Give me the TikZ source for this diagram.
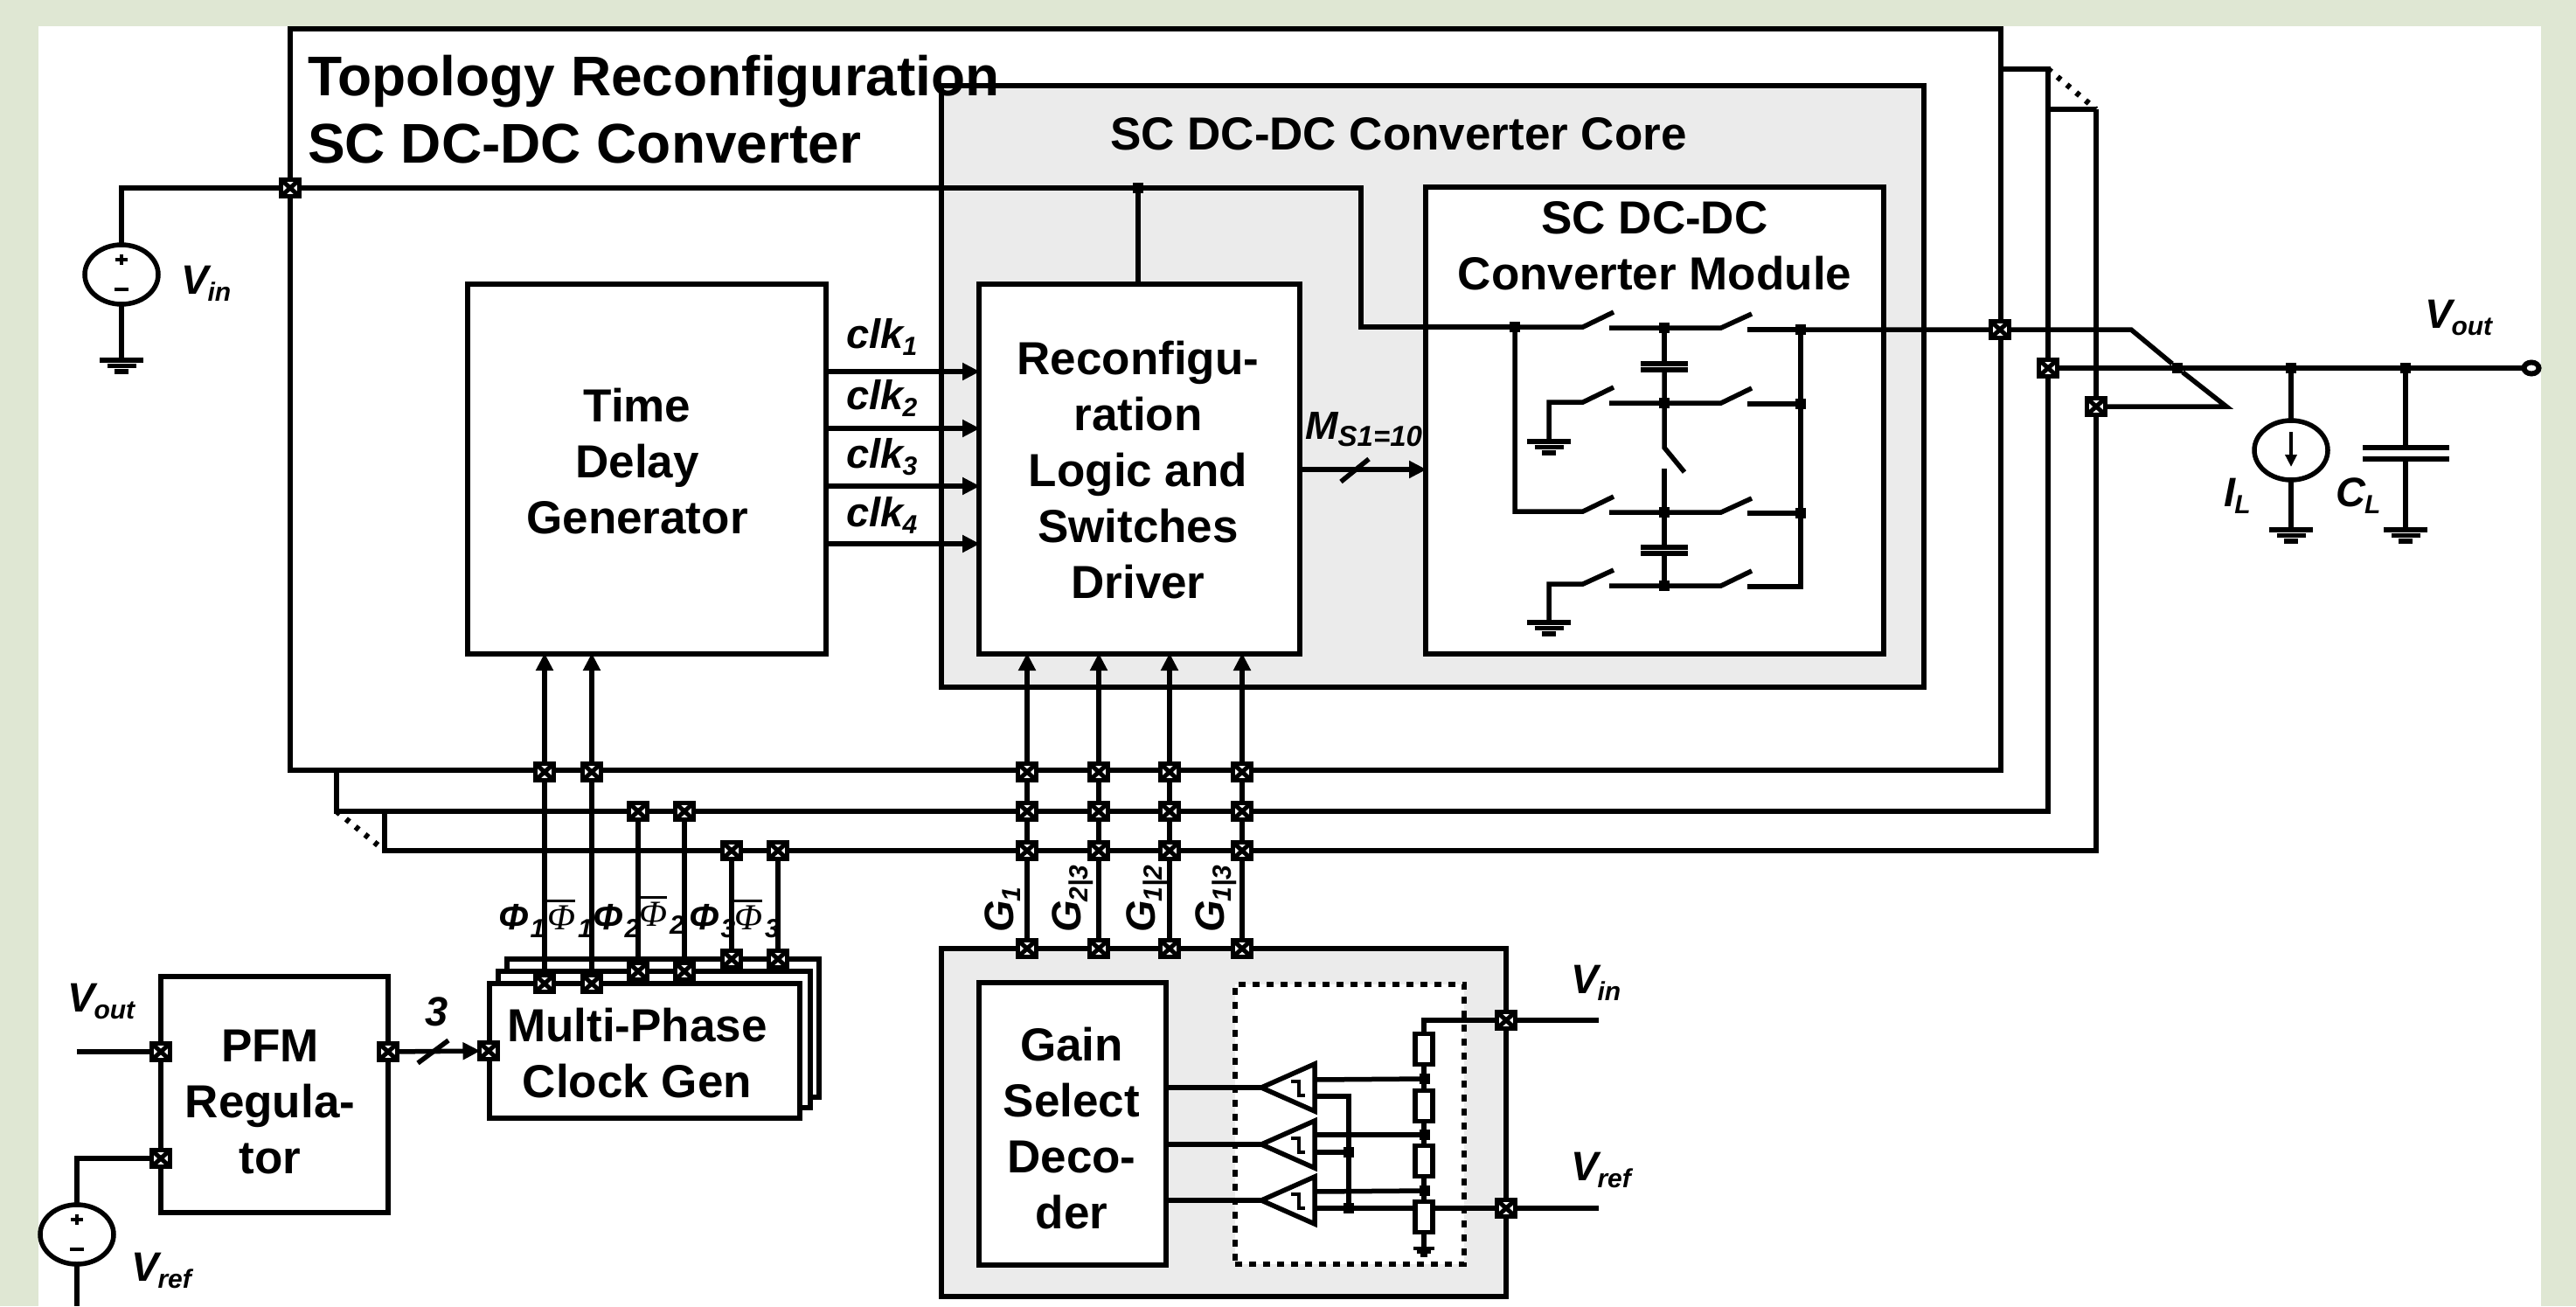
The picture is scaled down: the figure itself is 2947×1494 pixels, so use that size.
\documentclass[tikz,border=0pt]{standalone}
\usepackage{fontspec}
\setmainfont{Liberation Sans}
\newfontfamily\serphi{Liberation Serif}
\usetikzlibrary{arrows.meta,shapes.geometric,calc}
\pgfdeclarelayer{bg}
\pgfdeclarelayer{wirelayer}
\pgfsetlayers{bg,wirelayer,main}
\definecolor{pagegreen}{HTML}{DFE7D3}
\definecolor{coregray}{HTML}{EBEBEB}
% label with subscript: main, subscript
\newcommand{\slab}[2]{{\fontsize{47}{47}\selectfont\bfseries\itshape #1\kern-1pt\raisebox{-8pt}{\fontsize{30}{30}\selectfont #2}}}
\newcommand{\phiplain}[1]{{\fontsize{42}{42}\selectfont\bfseries\itshape Φ\kern2pt\raisebox{-9pt}{\fontsize{30}{30}\selectfont #1}}}
\newcommand{\phibar}[1]{{\fontsize{42}{42}\selectfont\vbox{\hrule height 3pt\kern 4pt\hbox{\serphi\itshape Φ}}\kern3pt\raisebox{-9pt}{\bfseries\itshape\fontsize{30}{30}\selectfont #1}}}
\newcommand{\boxnode}[6][blk]{\node[#1,minimum width={(#5-#3)*1pt},minimum height={(#6-#4)*1pt}] (#2) at ({(#3+#5)/2},{(#4+#6)/2}) {};}
\newcommand{\gndsym}[4]{% x, y, half width, step
  \draw[gbar] ({#1-#3},#2) -- ({#1+#3},#2)
   ({#1-#3*0.66},{#2+#4}) -- ({#1+#3*0.66},{#2+#4})
   ({#1-#3*0.33},{#2+2*#4}) -- ({#1+#3*0.33},{#2+2*#4});}
\newcommand{\vsource}[3]{%
  \node[srcell] (#1) at (#2,#3) {};
  \draw[line width=4pt] ({#2-7},{#3-17}) -- ({#2+7},{#3-17}) ({#2},{#3-23}) -- ({#2},{#3-11})
   ({#2-8},{#3+17}) -- ({#2+8},{#3+17});}
\newcommand{\compar}[2]{%
  \coordinate (#1) at (1443,#2);
  \draw[wire,line join=miter] (#1) -- (1504,{#2-27}) -- (1504,{#2+27}) -- cycle;
  \draw[line width=4pt] (1477,{#2-7}) -- (1486,{#2-7}) -- (1486,{#2+9}) -- (1493,{#2+9});}
\tikzset{
  blk/.style={draw,line width=6.5pt,fill=white,inner sep=0pt,outer sep=0pt},
  coreblk/.style={blk,fill=coregray},
  wire/.style={line width=5.5pt,line join=miter},
  arrowwire/.style={wire,-{Triangle[length=20pt,width=19pt]},shorten >=-1pt},
  gbar/.style={line width=5.5pt},
  dotline/.style={line width=6.5pt,dash pattern=on 5pt off 9pt},
  port/.style={draw,line width=4.5pt,fill=white,minimum width=21pt,minimum height=19pt,inner sep=0pt,outer sep=0pt,
    path picture={\draw[line width=5pt]
      (path picture bounding box.north west) -- (path picture bounding box.south east)
      (path picture bounding box.north east) -- (path picture bounding box.south west);}},
  jdot/.style={fill=black,minimum size=12pt,inner sep=0pt,outer sep=0pt},
  res/.style={draw,line width=5.5pt,fill=white,minimum width=20pt,minimum height=35pt,inner sep=0pt},
  srcell/.style={ellipse,draw,line width=5.5pt,fill=white,minimum width=84pt,minimum height=68pt,inner sep=0pt,outer sep=0pt},
  ttl/.style={inner sep=0pt,font=\fontsize{64}{79}\selectfont\bfseries,align=left},
  bigt/.style={inner sep=0pt,font=\fontsize{53}{64}\selectfont\bfseries,align=center},
  lab/.style={inner sep=0pt,anchor=base west},
}
\begin{document}
\begin{tikzpicture}[x=1pt,y=-1pt]
\useasboundingbox (0,0) rectangle (2947,1494);
\begin{pgfonlayer}{bg}
  \fill[pagegreen] (0,0) rectangle (2947,1494);
  \fill[white] (44,30) rectangle (2907,1494);
  % stacked outlines
  \draw[wire,line width=6pt] (2398,125) -- (2398,973) -- (440,973) -- (440,928);
  \draw[wire,line width=6pt] (2343,125) -- (2398,125);
  \draw[wire,line width=6pt] (2288,79) -- (2343,79) -- (2343,928) -- (385,928) -- (385,881);
  \draw[dotline] (2343,79) -- (2398,125);
  \draw[dotline] (385,928) -- (440,973);
  \boxnode{topo}{332}{33}{2289}{881}
  \boxnode[coreblk]{core}{1077}{98}{2201}{786}
  \boxnode{module}{1631}{214}{2155}{748}
  \boxnode{tdg}{535}{325}{945}{748}
  \boxnode{logic}{1120}{325}{1487}{748}
  \boxnode{gen3}{580}{1097}{937}{1255}
  \boxnode{gen2}{570}{1111}{927}{1267}
  \boxnode{gen1}{560}{1125}{915}{1279}
  \boxnode{pfm}{184}{1117}{444}{1387}
  \boxnode[coreblk]{gain}{1077}{1085}{1723}{1483}
  \boxnode{decoder}{1120}{1124}{1334}{1447}
  \node[draw,line width=5.5pt,fill=white,dash pattern=on 8pt off 8pt,minimum width=262pt,minimum height=320pt,inner sep=0pt,outer sep=0pt] (ladderbox) at (1544,1286) {};
\end{pgfonlayer}

% ---- titles and block texts
\node[ttl,anchor=base west] (title1) at (352,109) {Topology Reconfiguration};
\node[ttl,anchor=base west] (title2) at (352,186) {SC DC-DC Converter};
\node[bigt,anchor=base] (coretxt) at (1600,171) {SC DC-DC Converter Core};
\node[bigt,anchor=base] (modtxt) at (1893,331) {SC DC-DC\\Converter Module};
\node[bigt,anchor=base] (tdgtxt) at (729,610) {Time\\Delay\\Generator};
\node[bigt,anchor=base] (logtxt) at (1302,684) {Reconfigu-\\ration\\Logic and\\Switches\\Driver};
\node[bigt,anchor=base] (gentxt) at (729,1255) {Multi-Phase\\Clock Gen};
\node[bigt,anchor=base] (pfmtxt) at (309,1342) {PFM\\Regula-\\tor};
\node[bigt,anchor=base] (dectxt) at (1226,1405) {Gain\\Select\\Deco-\\der};

% ---- small labels
\node[lab] (lVin) at (207,336) {\slab{V}{in}};
\node[lab] (lVout) at (2774,375) {\slab{V}{out}};
\node[lab] (lVoutL) at (77,1157) {\slab{V}{out}};
\node[lab] (lVref) at (150,1465) {\slab{V}{ref}};
\node[lab] (lVinR) at (1797,1136) {\slab{V}{in}};
\node[lab] (lVrefR) at (1797,1350) {\slab{V}{ref}};
\node[lab] (lIL) at (2544,579) {\slab{I}{L}};
\node[lab] (lCL) at (2672,579) {\slab{C}{L}};
\node[lab] (lThree) at (486,1173) {\fontsize{47}{47}\selectfont\bfseries\itshape 3};
\node[lab] (lclkA) at (968,398) {\slab{clk}{1}};
\node[lab] (lclkB) at (968,468) {\slab{clk}{2}};
\node[lab] (lclkC) at (968,535) {\slab{clk}{3}};
\node[lab] (lclkD) at (968,602) {\slab{clk}{4}};
\node[lab] (lMS) at (1493,502) {{\fontsize{45}{45}\selectfont\bfseries\itshape M\raisebox{-8pt}{\fontsize{33}{33}\selectfont S1=10}}};
\node[lab] (lP1) at (570,1063) {\phiplain{1}};
\node[lab] (lP1b) at (626,1063) {\phibar{1}};
\node[lab] (lP2) at (678,1063) {\phiplain{2}};
\node[lab] (lP2b) at (731,1059) {\phibar{2}};
\node[lab] (lP3) at (788,1063) {\phiplain{3}};
\node[lab] (lP3b) at (840,1063) {\phibar{3}};
\node[lab,rotate=90] (lG1) at (1159,1067) {\slab{G}{1}};
\node[lab,rotate=90] (lG23) at (1236,1067) {\slab{G}{2|3}};
\node[lab,rotate=90] (lG12) at (1321,1067) {\slab{G}{1|2}};
\node[lab,rotate=90] (lG13) at (1400,1067) {\slab{G}{1|3}};

% ---- ports
\node[port] (pVin) at (332,215) {};
\node[port] (pOutA) at (2288,377) {};
\node[port] (pOutB) at (2343,421) {};
\node[port] (pOutC) at (2398,465) {};
\node[port] (pPfmA) at (184,1203) {};
\node[port] (pPfmB) at (184,1325) {};
\node[port] (pPfmO) at (444,1203) {};
\node[port] (pGenI) at (559,1202) {};
\node[port] (pGainV) at (1723,1167) {};
\node[port] (pGainR) at (1723,1382) {};
\foreach \n/\x in {a/1175,b/1257,c/1338,d/1421}{
  \node[port] (pg\n0) at (\x,1085) {};
  \node[port] (pg\n1) at (\x,973) {};
  \node[port] (pg\n2) at (\x,928) {};
  \node[port] (pg\n3) at (\x,883) {};
}
\foreach \n/\x in {a/623,b/677}{
  \node[port] (ph\n T) at (\x,883) {};
  \node[port] (ph\n B) at (\x,1125) {};
}
\foreach \n/\x in {c/730,d/783}{
  \node[port] (ph\n T) at (\x,928) {};
  \node[port] (ph\n B) at (\x,1111) {};
}
\foreach \n/\x in {e/837,f/890}{
  \node[port] (ph\n T) at (\x,973) {};
  \node[port] (ph\n B) at (\x,1097) {};
}

% ---- junction dots
\node[jdot] (jLogic) at (1302,215) {};
\node[jdot] (jSwL) at (1733,374) {};
\node[jdot] (jC1) at (1904,375) {};
\node[jdot] (jC2) at (1904,461) {};
\node[jdot] (jC3) at (1904,586) {};
\node[jdot] (jC4) at (1904,670) {};
\node[jdot] (jR1) at (2060,377) {};
\node[jdot] (jR2) at (2060,462) {};
\node[jdot] (jR3) at (2060,587) {};
\node[jdot] (jCross) at (2491,421) {};
\node[jdot] (jIL) at (2621,421) {};
\node[jdot] (jCL) at (2752,421) {};
\node[jdot] (jT1) at (1630,1234) {};
\node[jdot] (jT2) at (1630,1298) {};
\node[jdot] (jT3) at (1630,1362) {};
\node[jdot] (jH2) at (1543,1318) {};
\node[jdot] (jH3) at (1543,1382) {};

% ---- sources, resistors, comparators
\vsource{srcVin}{139}{314}
\vsource{srcVref}{88}{1412}
\node[srcell] (srcIL) at (2621,515) {};
\draw[line width=4.5pt,-{Triangle[length=14pt,width=13pt]}] (2621,494) -- (2621,534);
\node[res] (r1) at (1629,1200) {};
\node[res] (r2) at (1629,1265) {};
\node[res] (r3) at (1629,1328) {};
\node[res] (r4) at (1629,1392) {};
\compar{cmpA}{1244}
\compar{cmpB}{1309}
\compar{cmpC}{1373}

% ---- grounds
\gndsym{139}{412}{25}{6.5}
\gndsym{1772}{505}{25}{6.5}
\gndsym{1772}{712}{25}{6.5}
\gndsym{2621}{606}{25}{6.5}
\gndsym{2752}{606}{25}{6.5}
\draw[line width=4pt] (1617,1428) -- (1641,1428) (1621,1432) -- (1637,1432) (1625,1436) -- (1633,1436);

% ---- capacitors plates
\draw[gbar] (1877,416) -- (1931,416) (1877,423) -- (1931,423);
\draw[gbar] (1877,626) -- (1931,626) (1877,633) -- (1931,633);
\draw[gbar] (2703,512) -- (2802,512) (2703,525) -- (2802,525);

% ---- terminal
\node[draw,line width=6pt,ellipse,fill=white,minimum width=17pt,minimum height=13pt,inner sep=0pt] (termOut) at (2896,421) {};

% ---- free ends
\coordinate (cVoutL) at (88,1203);
\coordinate (cVinR) at (1829,1167);
\coordinate (cVrefR) at (1829,1382);
\coordinate (cBottom) at (88,1494);
\coordinate (cFold) at (1557,215);
\coordinate (cFold2) at (1557,374);
\coordinate (cXa) at (2438,377);
\coordinate (cXb) at (2547,465);
\coordinate (cLad) at (1629,1167);
\coordinate (cLadG) at (1629,1428);

\begin{pgfonlayer}{wirelayer}
  % supply
  \draw[wire] (srcVin.north) |- (pVin) -- (jLogic) -- (cFold) -- (cFold2) -- (jSwL);
  \draw[wire] (srcVin.south) -- (139,412);
  \draw[wire] (jLogic) -- (jLogic |- logic.north);
  % output
  \draw[wire] (jR1) -- (pOutA) -- (cXa) -- (jCross) -- (cXb) -- (pOutC);
  \draw[wire] (pOutB) -- (jCross) -- (jIL) -- (jCL) -- (termOut);
  \draw[wire] (jIL) -- (srcIL.north);
  \draw[wire] (srcIL.south) -- (2621,606);
  \draw[wire] (jCL) -- (2752,512);
  \draw[wire] (2752,525) -- (2752,606);
  % clk arrows
  \foreach \y in {425,490,556,622}{
    \draw[arrowwire] (tdg.east |- 0,\y) -- (logic.west |- 0,\y);
  }
  % MS1=10
  \draw[arrowwire] (logic.east |- 0,537) -- (module.west |- 0,537);
  \draw[wire,line width=5.5pt] (1534,551) -- (1566,525);
  % G lines
  \foreach \n in {a,b,c,d}{
    \draw[arrowwire] (pg\n0) -- (pg\n0 |- logic.south);
  }
  % phase lines
  \foreach \n in {a,b}{\draw[arrowwire] (ph\n B) -- (ph\n B |- tdg.south);}
  \foreach \n in {c,d,e,f}{\draw[wire] (ph\n B) -- (ph\n T);}
  % PFM
  \draw[wire] (cVoutL) -- (pPfmA);
  \draw[wire] (srcVref.north) |- (pPfmB);
  \draw[wire] (srcVref.south) -- (cBottom);
  \draw[arrowwire] (pPfmO) -- (pGenI);
  \draw[wire,line width=5.5pt] (478,1216) -- (513,1190);
  % switched-capacitor module
  \draw[wire] (jSwL) -- (1811,374) -- (1846,357);
  \draw[wire] (1841,375) -- (jC1) -- (1969,375) -- (2004,359);
  \draw[wire] (1999,377) -- (jR1);
  \draw[wire] (jSwL) |- (1811,585) -- (1846,568);
  \draw[wire] (1841,586) -- (jC3) -- (1969,586) -- (2004,570);
  \draw[wire] (1999,587) -- (jR3);
  \draw[wire] (1772,505) |- (1811,460) -- (1846,443);
  \draw[wire] (1841,461) -- (jC2) -- (1969,461) -- (2004,444);
  \draw[wire] (1999,462) -- (jR2);
  \draw[wire] (1772,712) |- (1811,668) -- (1846,652);
  \draw[wire] (1841,670) -- (jC4) -- (1969,670) -- (2004,653);
  \draw[wire] (1999,671) -- (2060,671) -- (jR3) -- (jR2) -- (jR1);
  \draw[wire] (jC1) -- (1904,416);
  \draw[wire] (1904,423) -- (jC2) -- (1904,512) -- (1927,540);
  \draw[wire] (1904,536) -- (jC3) -- (1904,626);
  \draw[wire] (1904,633) -- (jC4);
  % ladder
  \draw[wire] (pGainV) -- (cVinR);
  \draw[wire] (pGainR) -- (cVrefR);
  \draw[wire] (pGainV) -| (cLad) -- (r1) -- (r2) -- (r3) -- (r4) -- (cLadG);
  \draw[wire] (decoder.east |- cmpA) -- (cmpA);
  \draw[wire] (decoder.east |- cmpB) -- (cmpB);
  \draw[wire] (decoder.east |- cmpC) -- (cmpC);
  \draw[wire] (1504,1235) -- (jT1);
  \draw[wire] (1504,1298) -- (jT2);
  \draw[wire] (1504,1363) -- (jT3);
  \draw[wire] (1504,1254) -| (jH3);
  \draw[wire] (1504,1318) -- (jH2);
  \draw[wire] (1504,1382) -- (jH3) -- (pGainR);
\end{pgfonlayer}
\end{tikzpicture}
\end{document}
